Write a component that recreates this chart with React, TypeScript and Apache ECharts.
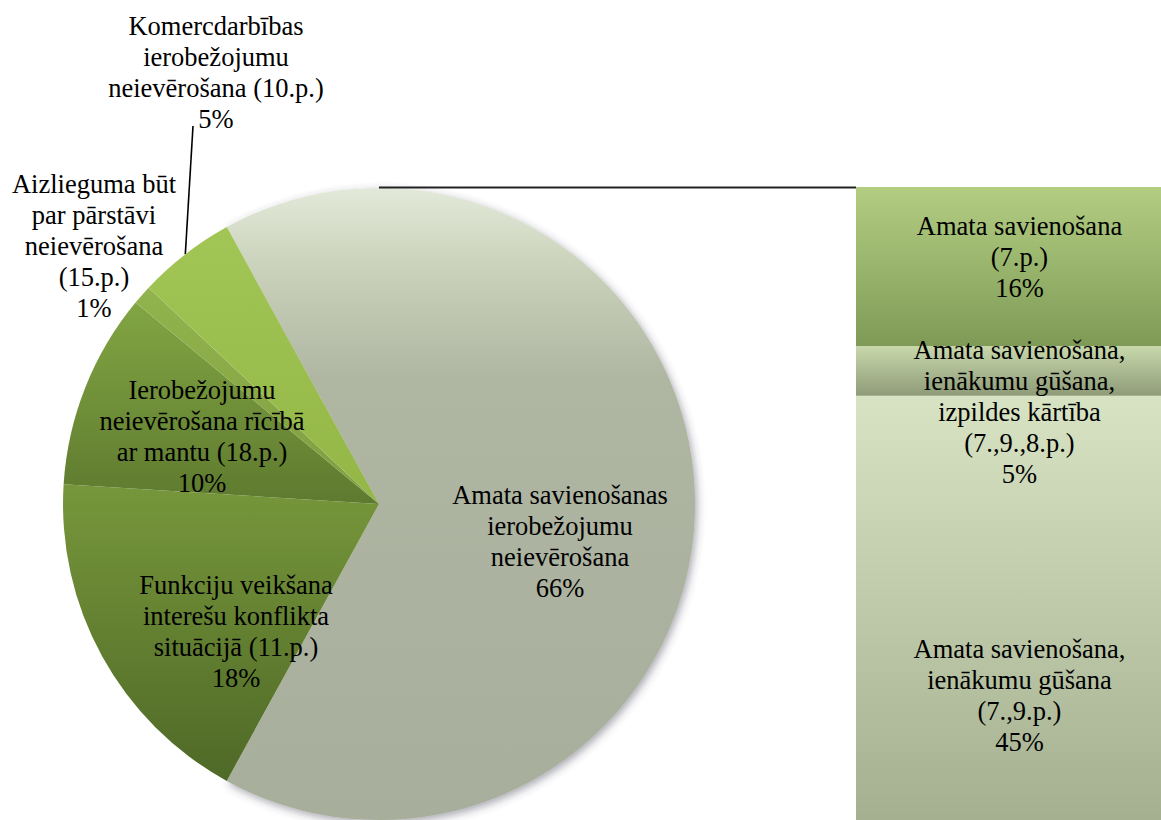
import React, { useEffect, useRef } from "react";
import * as echarts from "echarts";

// ---------- data ----------
const pieNames = [
  "Amata savienošanas\nierobežojumu\nneievērošana",
  "Funkciju veikšana\ninterešu konflikta\nsituācijā (11.p.)",
  "Ierobežojumu\nneievērošana rīcībā\nar mantu (18.p.)",
  "Aizlieguma būt\npar pārstāvi\nneievērošana\n(15.p.)",
  "Komercdarbības\nierobežojumu\nneievērošana (10.p.)",
];
const pieValues = [66, 18, 10, 1, 5];

// stacked from bottom to top
const barNames = [
  "Amata savienošana,\nienākumu gūšana\n(7.,9.p.)",
  "Amata savienošana,\nienākumu gūšana,\nizpildes kārtība\n(7.,9.,8.p.)",
  "Amata savienošana\n(7.p.)",
];
const barValues = [45, 5, 16];

// ---------- layout / style ----------
const W = 1161;
const H = 820;
const PIE_CX = 379;
const PIE_CY = 504;
const PIE_R = 316;
const PIE_START = 118.8;
const BAR_LEFT = 856;
const BAR_TOP = 187;
const BAR_WIDTH = 327;
const BAR_HEIGHT = 656;
const FONT = '"Liberation Serif", "Times New Roman", serif';
const FONT_SIZE = 26.5;
const LINE_H = 31;

const PIE_LABEL_POS: number[][] = [
  [560, 541],
  [236, 631],
  [202, 436],
  [94, 246],
  [216, 72],
];
const BAR_LABEL_OFFSET: number[][] = [
  [0, 76],
  [0, 41],
  [0, -10],
];

const grad = (stops: [number, string][]) => ({
  type: "linear",
  x: 0,
  y: 0,
  x2: 0,
  y2: 1,
  colorStops: stops.map(([offset, color]) => ({ offset, color })),
});

const PIE_COLORS = [
  grad([
    [0, "#e3e9d9"],
    [0.12, "#cbd3bc"],
    [0.3, "#afb6a2"],
    [1, "#a8ae9c"],
  ]),
  grad([
    [0, "#77973b"],
    [1, "#4f6927"],
  ]),
  grad([
    [0, "#82a543"],
    [1, "#5e7a2f"],
  ]),
  grad([
    [0, "#92b44d"],
    [1, "#7e9d40"],
  ]),
  grad([
    [0, "#a2c655"],
    [1, "#93b647"],
  ]),
];

const BAR_COLORS = [
  grad([
    [0, "#d7e3c2"],
    [1, "#a2ad8e"],
  ]),
  grad([
    [0, "#c8d8ab"],
    [1, "#8e9b78"],
  ]),
  grad([
    [0, "#b3ce82"],
    [1, "#7f9a56"],
  ]),
];

const pieTotal = pieValues.reduce((a, b) => a + b, 0);

function arcPoint(index: number): number[] {
  let cum = 0;
  for (let i = 0; i < index; i++) cum += pieValues[i];
  const mid = cum + pieValues[index] / 2;
  const deg = PIE_START - (360 * mid) / pieTotal;
  const rad = (deg * Math.PI) / 180;
  return [PIE_CX + PIE_R * Math.cos(rad), PIE_CY - PIE_R * Math.sin(rad)];
}

const pct = (v: number) => `${Math.round((v / pieTotal) * 100)}%`;

export default function App() {
  const ref = useRef<HTMLDivElement>(null);

  useEffect(() => {
    document.body.style.margin = "0";
    if (!ref.current) return;
    const chart = echarts.init(ref.current, undefined, { renderer: "svg" });

    const textStyle = {
      color: "#000",
      fontFamily: FONT,
      fontSize: FONT_SIZE,
      lineHeight: LINE_H,
      align: "center",
      textBorderWidth: 0,
    };

    const pieData = pieValues.map((v, i) => {
      const item: any = {
        name: pieNames[i],
        value: v,
        itemStyle: {
          color: PIE_COLORS[i],
          ...(i === 0
            ? {
                shadowBlur: 8,
                shadowColor: "rgba(60,60,80,0.45)",
                shadowOffsetX: 2,
                shadowOffsetY: 3,
              }
            : {}),
        },
      };
      if (i >= 3) {
        item.label = { position: "outside" };
        item.labelLine = {
          show: i === 4,
          length: 10,
          length2: 0,
          lineStyle: { color: "#000", width: 1.6 },
        };
      }
      return item;
    });

    const option: any = {
      animation: false,
      backgroundColor: "#fff",
      grid: {
        left: BAR_LEFT,
        top: BAR_TOP,
        width: BAR_WIDTH,
        height: BAR_HEIGHT,
        containLabel: false,
        outerBoundsMode: "none",
      },
      xAxis: {
        type: "category",
        data: ["bar"],
        show: false,
        boundaryGap: true,
      },
      yAxis: {
        type: "value",
        min: 0,
        max: barValues.reduce((a, b) => a + b, 0),
        show: false,
      },
      graphic: [
        {
          type: "line",
          shape: { x1: PIE_CX, y1: BAR_TOP + 0.5, x2: BAR_LEFT, y2: BAR_TOP + 0.5 },
          style: { stroke: "#222", lineWidth: 2 },
          z: 10,
        },
      ],
      series: [
        {
          type: "pie",
          center: [PIE_CX, PIE_CY],
          radius: PIE_R,
          startAngle: PIE_START,
          clockwise: true,
          avoidLabelOverlap: false,
          silent: true,
          data: pieData,
          label: {
            show: true,
            position: "inside",
            formatter: (p: any) => `${p.name}\n${pct(p.value)}`,
            ...textStyle,
          },
          labelLine: { show: false },
          labelLayout: (params: any) => {
            const i = params.dataIndex;
            const [x, y] = PIE_LABEL_POS[i];
            const res: any = { x, y, align: "center", verticalAlign: "middle" };
            if (i === 4) {
              res.labelLinePoints = [arcPoint(i), [x - 23, y + 54]];
            }
            return res;
          },
        },
        ...barValues.map((v, i) => ({
          type: "bar",
          name: barNames[i],
          stack: "total",
          data: [v],
          barWidth: "100%",
          barCategoryGap: "0%",
          silent: true,
          z: i === 1 ? 5 : 2,
          itemStyle: { color: BAR_COLORS[i] },
          label: {
            show: true,
            position: "inside",
            formatter: `${barNames[i]}\n${pct(v)}`,
            offset: BAR_LABEL_OFFSET[i],
            ...textStyle,
          },
        })),
      ],
    };

    chart.setOption(option);
    return () => chart.dispose();
  }, []);

  return <div ref={ref} style={{ width: W, height: H }} />;
}
